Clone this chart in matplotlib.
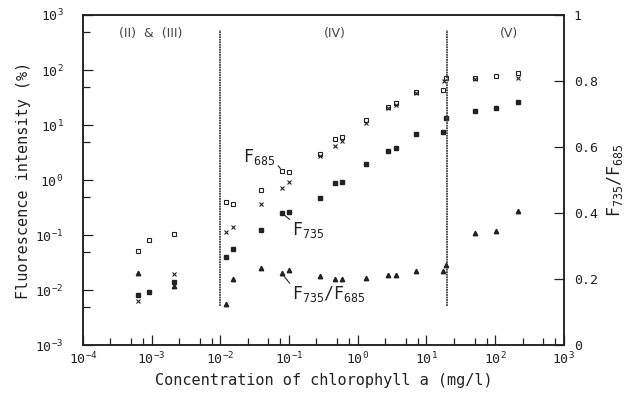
import numpy as np
import matplotlib
matplotlib.use('Agg')
import matplotlib.pyplot as plt
from matplotlib.ticker import LogLocator, NullFormatter, FixedLocator

plt.rcParams['font.family'] = ['DejaVu Sans Mono', 'DejaVu Sans']
plt.rcParams['mathtext.default'] = 'regular'
plt.rcParams['mathtext.fontset'] = 'custom'
plt.rcParams['mathtext.rm'] = 'DejaVu Sans Mono'
plt.rcParams['mathtext.it'] = 'DejaVu Sans Mono'

ink = '#222222'

# F685 (open symbols)
conc_685 = [6.4e-4, 9.3e-4, 2.1e-3, 0.0119, 0.0152, 0.0387, 0.079, 0.1, 0.286, 0.46,
            0.58, 1.31, 2.76, 3.66, 7.03, 17.2, 19.2, 50, 102, 213]
f685 = [0.051, 0.081, 0.105, 0.40, 0.37, 0.66, 1.48, 1.42, 2.97, 5.56,
        6.1, 12.3, 21.5, 25.4, 40.3, 43.3, 70.6, 70.6, 77.8, 89.3]

# second F685 measurement (crosses)
conc_x = [6.4e-4, 2.1e-3, 0.0119, 0.0152, 0.0387, 0.079, 0.1, 0.286, 0.46, 0.58,
          1.31, 2.76, 3.66, 7.03, 18.0, 50, 213]
f685_x = [0.0063, 0.020, 0.115, 0.138, 0.37, 0.73, 0.92, 2.73, 4.15, 5.12,
          11.0, 20.8, 23.4, 38.0, 64.0, 68.0, 70.6]

# F735 (filled squares)
conc_735 = [6.4e-4, 9.3e-4, 2.1e-3, 0.0119, 0.0152, 0.0387, 0.079, 0.1, 0.286, 0.46,
            0.58, 1.31, 2.76, 3.66, 7.03, 17.2, 19.2, 50, 102, 213]
f735 = [0.0082, 0.0093, 0.014, 0.040, 0.057, 0.123, 0.25, 0.26, 0.47, 0.87,
        0.92, 1.95, 3.41, 3.87, 6.78, 7.36, 13.2, 18.2, 20.6, 26.2]

# F735/F685 ratio (triangles, right axis)
conc_r = [6.4e-4, 2.1e-3, 0.0119, 0.0152, 0.0387, 0.079, 0.1, 0.286, 0.46, 0.58,
          1.31, 2.76, 3.66, 7.03, 17.2, 19.2, 50, 102, 213]
ratio = [0.22, 0.18, 0.124, 0.199, 0.233, 0.217, 0.229, 0.21, 0.199, 0.2,
         0.203, 0.212, 0.212, 0.225, 0.224, 0.244, 0.341, 0.345, 0.406]

# region borders and labels
borders = [0.01, 19.7]
regions = ['(II)  &  (III)', '(IV)', '(V)']
region_x = [9.7e-4, 0.47, 161]

fig = plt.figure(figsize=(6.43, 3.94), dpi=100)
ax = fig.add_axes([0.129, 0.124, 0.748, 0.838])
ax.set_xscale('log')
ax.set_yscale('log')
ax.set_xlim(1e-4, 1e3)
ax.set_ylim(1e-3, 1e3)

ax.plot(conc_685, f685, 's', ms=3.2, mfc='white', mec=ink, mew=0.8)
ax.plot(conc_x, f685_x, 'x', ms=3.0, mec=ink, mew=0.8)
ax.plot(conc_735, f735, 's', ms=3.2, color=ink)

for b in borders:
    ax.axvline(b, ymin=0.118, ymax=0.955, color='#444444', lw=1.3, ls=(0, (1, 0.4)))

for lab, xx in zip(regions, region_x):
    ax.text(xx, 0.945, lab, transform=ax.get_xaxis_transform(), ha='center',
            va='center', fontsize=9, color='#444444', family='DejaVu Sans')

ax.annotate(r'F$_{685}$', xy=(0.079, 1.48), xytext=(0.0215, 2.6), fontsize=12,
            color=ink, va='center', ha='left',
            arrowprops=dict(arrowstyle='-', color=ink, lw=0.8, shrinkA=0, shrinkB=2,
                            relpos=(1.0, 0.25)))
ax.annotate(r'F$_{735}$', xy=(0.079, 0.25), xytext=(0.112, 0.125), fontsize=12,
            color=ink, va='center', ha='left',
            arrowprops=dict(arrowstyle='-', color=ink, lw=0.8, shrinkA=0, shrinkB=2,
                            relpos=(0.0, 0.9)))

ax.set_xlabel('Concentration of chlorophyll a (mg/l)', fontsize=11, color=ink, labelpad=4)
ax.set_ylabel('Fluorescence intensity (%)', fontsize=11, color=ink, labelpad=3)

ax.xaxis.set_major_locator(LogLocator(base=10, numticks=20))
ax.xaxis.set_minor_locator(LogLocator(base=10, subs=(2.5, 5.0, 7.5), numticks=20))
ax.xaxis.set_minor_formatter(NullFormatter())
ax.yaxis.set_major_locator(LogLocator(base=10, numticks=20))
ax.yaxis.set_minor_locator(LogLocator(base=10, subs=(5.0,), numticks=20))
ax.yaxis.set_minor_formatter(NullFormatter())
ax.tick_params(which='major', direction='in', length=7, width=0.9, colors=ink, labelsize=9.5)
ax.tick_params(which='minor', direction='in', length=5, width=0.9, colors=ink)
ax.tick_params(axis='x', which='major', pad=4)
ax.tick_params(axis='y', which='major', pad=14)
for s in ax.spines.values():
    s.set_linewidth(1.1)
    s.set_color(ink)

ax2 = ax.twinx()
ax2.set_ylim(0, 1)
ax2.plot(conc_r, ratio, '^', ms=3.2, color=ink)
ax2.annotate(r'F$_{735}$/F$_{685}$', xy=(0.079, 0.217), xytext=(0.112, 0.155),
             fontsize=12, color=ink, va='center', ha='left',
             arrowprops=dict(arrowstyle='-', color=ink, lw=0.8, shrinkA=0, shrinkB=2,
                             relpos=(0.0, 0.85)))
ax2.yaxis.set_major_locator(FixedLocator([0, 0.2, 0.4, 0.6, 0.8, 1.0]))
ax2.set_yticklabels(['0', '0.2', '0.4', '0.6', '0.8', '1'])
ax2.tick_params(direction='in', length=7, width=0.9, colors=ink, labelsize=9.5, pad=7)
ax2.set_ylabel(r'F$_{735}$/F$_{685}$', fontsize=12, color=ink, labelpad=5)
for s in ax2.spines.values():
    s.set_linewidth(1.1)
    s.set_color(ink)

fig.savefig('out.png', dpi=100)
